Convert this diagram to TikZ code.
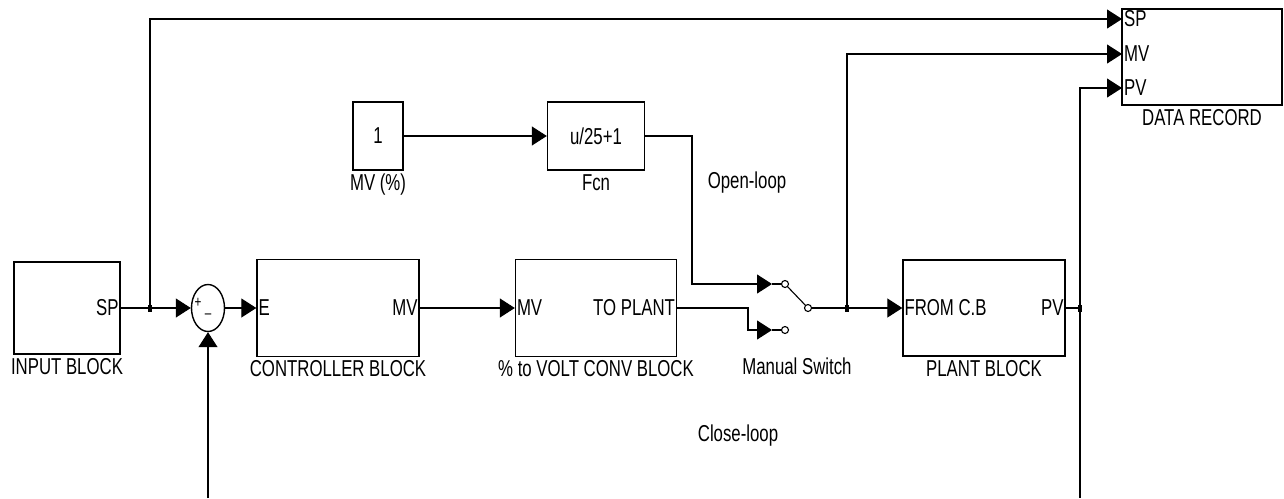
\documentclass[tikz,border=0pt]{standalone}
\usepackage{fontspec}
\setmainfont[FakeStretch=0.73]{Liberation Sans}
\usetikzlibrary{arrows.meta,shapes.geometric}

\begin{document}
\begin{tikzpicture}[x=1pt,y=-1pt,>={Triangle[length=15pt,width=19pt]},
  every node/.style={font=\fontsize{23}{26}\selectfont},
  blk/.style={draw,line width=1.4pt,inner sep=0pt,label distance=4pt},
  sig/.style={line width=1.1pt},
  port/.style={inner sep=2pt},
  sgn/.style={inner sep=0pt,font=\fontsize{16}{16}\selectfont}]
  \useasboundingbox (0,0) rectangle (1284,498);

  % blocks
  \node[blk,minimum width=106pt,minimum height=92pt,label=below:INPUT BLOCK] (inp) at (67,308) {};
  \node[blk,ellipse,minimum width=33pt,minimum height=47pt] (sum) at (208,308) {};
  \node[blk,minimum width=162pt,minimum height=97pt,label=below:CONTROLLER BLOCK] (ctrl) at (338,308) {};
  \node[blk,minimum width=161pt,minimum height=97pt,label=below:\% to VOLT CONV BLOCK] (conv) at (596,308) {};
  \node[blk,minimum width=50pt,minimum height=68pt,label=below:MV (\%)] (mvc) at (378,136) {1};
  \node[blk,minimum width=97pt,minimum height=68pt,label=below:Fcn] (fcn) at (596,136) {u/25+1};
  \node[blk,minimum width=162pt,minimum height=96pt,label=below:PLANT BLOCK] (plant) at (984,308) {};
  \node[blk,minimum width=160pt,minimum height=96pt,label=below:DATA RECORD] (rec) at (1202,57) {};

  % port texts
  \node[port,anchor=east] (inpsp) at (inp.east) {SP};
  \node[sgn] (plus) at (198,303) {+};
  \node[sgn] (minus) at (208,316) {–};
  \node[port,anchor=west] (ctrle) at (ctrl.west) {E};
  \node[port,anchor=east] (ctrlmv) at (ctrl.east) {MV};
  \node[port,anchor=west] (convmv) at (conv.west) {MV};
  \node[port,anchor=east] (convtp) at (conv.east) {TO PLANT};
  \node[port,anchor=west] (plantin) at (plant.west) {FROM C.B};
  \node[port,anchor=east] (plantpv) at (plant.east) {PV};

  \coordinate (rsp) at (1122,19);
  \coordinate (rmv) at (1122,54);
  \coordinate (rpv) at (1122,88);
  \node[port,anchor=west] (recsp) at (rsp) {SP};
  \node[port,anchor=west] (recmv) at (rmv) {MV};
  \node[port,anchor=west] (recpv) at (rpv) {PV};

  % switch
  \coordinate (sw1in) at (772,284);
  \coordinate (sw2in) at (772,330);
  \coordinate (sw1) at (785,284);
  \coordinate (sw2) at (785,330);
  \coordinate (swo) at (808,308);

  % branch points
  \coordinate (j1) at (150,308);
  \coordinate (j2) at (847,308);
  \coordinate (j3) at (1080,308);
  \coordinate (fb) at (208,498);
  \coordinate (pvb) at (1080,498);

  % signals
  \draw[sig,->] (inp.east) -- (sum.west);
  \draw[sig,->] (j1) |- (rsp);
  \draw[sig,->] (sum.east) -- (ctrl.west);
  \draw[sig,->] (ctrl.east) -- (conv.west);
  \draw[sig,->] (mvc.east) -- (fcn.west);
  \draw[sig,->] (fcn.east) -- (692,136) |- (sw1in);
  \draw[sig,->] (conv.east) -- (748,308) |- (sw2in);
  \draw[sig] (sw1in) -- (sw1);
  \draw[sig] (sw2in) -- (sw2);
  \draw[sig] (sw1) -- (swo);
  \draw[sig,->] (swo) -- (plant.west);
  \draw[sig,->] (j2) |- (rmv);
  \draw[sig] (plant.east) -- (j3);
  \draw[sig,->] (j3) |- (rpv);
  \draw[sig] (j3) -- (pvb);
  \draw[sig,->] (fb) -- (sum.south);
  \foreach \c in {sw1,sw2,swo}
    \draw[sig,fill=white] (\c) circle (3.5pt);
  \foreach \j in {j1,j2,j3}
    \fill (\j) ++(-2,-3.5) rectangle ++(4,7);

  \node (open) at (747,183) {Open-loop};
  \node (manual) at (797,366) {Manual Switch};
  \node (close) at (738,436) {Close-loop};
\end{tikzpicture}
\end{document}
